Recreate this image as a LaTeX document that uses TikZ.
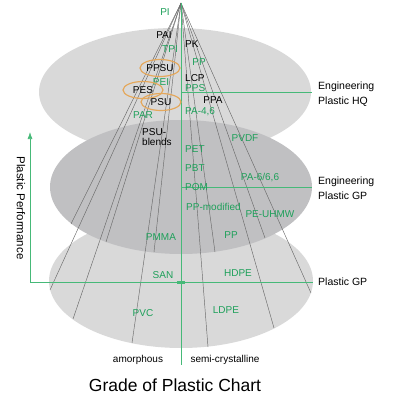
\documentclass[tikz,border=0pt]{standalone}
\usepackage{fontspec}
\setmainfont{Liberation Sans}
\usetikzlibrary{shapes.geometric,arrows.meta}
\definecolor{chartgreen}{RGB}{30,160,90}
\definecolor{linegreen}{RGB}{70,185,120}
\definecolor{ringorange}{RGB}{228,168,92}
\definecolor{lightdisc}{RGB}{217,217,217}
\definecolor{darkdisc}{RGB}{192,192,194}
\definecolor{conegray}{RGB}{105,105,105}
\begin{document}
\begin{tikzpicture}[x=1pt,y=-1pt,
    green node/.style={text=chartgreen,font=\fontsize{10}{10.5}\selectfont,inner sep=0pt},
    black node/.style={text=black,font=\fontsize{10}{10.5}\selectfont,inner sep=0pt},
    ring node/.style={ellipse,draw=ringorange,line width=1.2pt,minimum width=40pt,minimum height=17pt},
    side node/.style={anchor=west,align=left,font=\fontsize{10.5}{14.5}\selectfont,inner sep=0pt},
    cone line/.style={draw=conegray,line width=0.45pt},
    green line/.style={draw=linegreen,line width=0.7pt}]
    \useasboundingbox (0,0) rectangle (400,400);

    \fill[lightdisc] (175,92) ellipse [x radius=136, y radius=64];
    \fill[lightdisc] (181,281) ellipse [x radius=132, y radius=67];
    \fill[darkdisc] (181,187) ellipse [x radius=131, y radius=67];

    \coordinate (apex) at (181,3);
    \coordinate (b1) at (311,293);
    \coordinate (b2) at (274,328);
    \coordinate (b3) at (208,347);
    \coordinate (b4) at (132,343);
    \coordinate (b5) at (73,319);
    \coordinate (b6) at (50,290);
    \coordinate (m1) at (265,238);
    \coordinate (m2) at (215,252);
    \coordinate (m3) at (154,252);
    \coordinate (m4) at (106,242);
    \coordinate (m5) at (71,224);

    \path[cone line]
        (apex) edge (b1) (apex) edge (b2) (apex) edge (b3)
        (apex) edge (b4) (apex) edge (b5) (apex) edge (b6)
        (apex) edge (m1) (apex) edge (m2) (apex) edge (m3)
        (apex) edge (m4) (apex) edge (m5);

    \coordinate (vend) at (181,365);
    \coordinate (hq) at (181,92);
    \coordinate (hqend) at (312,92);
    \coordinate (gp) at (181,187);
    \coordinate (gpend) at (312,187);
    \coordinate (origin) at (30,282);
    \coordinate (pgend) at (313,282);
    \coordinate (axistop) at (30,132);

    \draw[green line] (apex) -- (vend);
    \draw[green line] (hq) -- (hqend);
    \draw[green line] (gp) -- (gpend);
    \draw[green line] (origin) -- (pgend);
    \draw[green line,-{Latex[length=7pt,width=5pt]}] (origin) -- (axistop);
    \node[fill=linegreen,minimum width=8pt,minimum height=3pt,inner sep=0pt] at (181,282) (zero) {};

    \node[green node] at (165,12) (pi) {PI};
    \node[black node] at (164,35) (pai) {PAI};
    \node[green node] at (170,49) (tpi) {TPI};
    \node[black node,anchor=west] at (185,44) (pk) {PK};
    \node[black node,ring node] at (160,68) (ppsu) {PPSU};
    \node[green node] at (199,62) (ppp) {PP};
    \node[green node] at (161,82) (pei) {PEI};
    \node[black node,anchor=west] at (185,78) (lcp) {LCP};
    \node[black node,ring node] at (143,90) (pes) {PES};
    \node[green node,anchor=west] at (185,88) (pps) {PPS};
    \node[black node,ring node] at (161,102) (psu) {PSU};
    \node[black node] at (213,100) (ppa) {PPA};
    \node[green node] at (143,115) (par) {PAR};
    \node[green node,anchor=west] at (185,112) (pa46) {PA-4,6};

    \node[black node,anchor=west,align=left] at (142,137) (blends) {PSU-\\blends};
    \node[green node] at (245,138) (pvdf) {PVDF};
    \node[green node,anchor=west] at (185,149) (pet) {PET};
    \node[green node,anchor=west] at (185,168) (pbt) {PBT};
    \node[green node] at (260,178) (pa66) {PA-6/6,6};
    \node[green node,anchor=west] at (185,187) (pom) {POM};
    \node[green node,anchor=west] at (186,207) (ppmod) {PP-modified};
    \node[green node] at (270,214) (peuhmw) {PE-UHMW};

    \node[green node] at (161,237) (pmma) {PMMA};
    \node[green node] at (231,235) (pp) {PP};
    \node[green node] at (163,275) (san) {SAN};
    \node[green node] at (238,273) (hdpe) {HDPE};
    \node[green node] at (143,313) (pvc) {PVC};
    \node[green node] at (226,310) (ldpe) {LDPE};

    \node[black node] at (138,360) (amorph) {amorphous};
    \node[black node] at (225,360) (semi) {semi-crystalline};

    \node[side node] at (318,94) (hqlabel) {Engineering\\Plastic HQ};
    \node[side node] at (318,188) (gplabel) {Engineering\\Plastic GP};
    \node[side node] at (318,282) (pglabel) {Plastic GP};

    \node[font=\fontsize{11.5}{13}\selectfont,rotate=-90,inner sep=0pt] at (21,208) (perf) {Plastic Performance};
    \node[font=\fontsize{17.5}{20}\selectfont,inner sep=0pt] at (175,385) (title) {Grade of Plastic Chart};
\end{tikzpicture}
\end{document}
